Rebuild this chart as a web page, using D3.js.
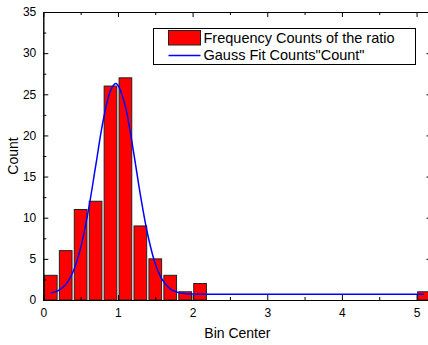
<!DOCTYPE html>
<html>
<head>
<meta charset="utf-8">
<script src="https://cdn.jsdelivr.net/npm/d3@7"></script>
<style>
  body { margin: 0; background: #fff; }
  svg { display: block; font-family: "Liberation Sans", Arial, sans-serif; }
  .axis path, .axis line { stroke: #000; }
</style>
</head>
<body>
<script>
// histogram of the ratio: bin centres and counts
var binCenters = [0.1, 0.3, 0.5, 0.7, 0.9, 1.1, 1.3, 1.5, 1.7, 1.9, 2.1, 5.1];
var binCounts  = [3, 6, 11, 12, 26, 27, 9, 5, 3, 1, 2, 1];

// gauss fit curve, sampled
var fitX = [0.1, 0.2, 0.3, 0.4, 0.5, 0.6, 0.7, 0.8, 0.9, 0.97, 1.0, 1.1, 1.2, 1.3, 1.4, 1.5, 1.6, 1.7, 1.8, 1.9, 2.0, 2.2, 2.6, 3.0, 4.0, 5.1];
var fitY = [0.84, 1.14, 1.88, 3.46, 6.33, 10.7, 16.2, 21.7, 25.45, 26.3, 26.1, 23.5, 18.5, 12.8, 7.9, 4.4, 2.38, 1.36, 0.93, 0.77, 0.72, 0.7, 0.7, 0.7, 0.7, 0.7];

var xTicks = [0, 1, 2, 3, 4, 5];
var yTicks = [0, 5, 10, 15, 20, 25, 30, 35];

var legendLabels = ["Frequency Counts of the ratio", "Gauss Fit Counts\"Count\""];

var margin = {top: 12, right: -3.5, bottom: 45, left: 43.3},
    W = 428, H = 345,
    width = W - margin.left - margin.right,
    height = H - margin.top - margin.bottom;

var x = d3.scaleLinear().domain([0, 5.2]).range([0, width]);
var y = d3.scaleLinear().domain([0, 35]).range([height, 0]);
var barW = 0.17;

var svg = d3.select("body").append("svg")
    .attr("width", W)
    .attr("height", H);

var g = svg.append("g")
    .attr("transform", "translate(" + margin.left + "," + margin.top + ")");

// bars
g.selectAll(".bar")
    .data(binCenters)
    .enter()
    .append("rect")
    .attr("class", "bar")
    .attr("x", function(d) { return x(d - barW / 2); })
    .attr("width", function(d) { return x(barW) - x(0); })
    .attr("y", function(d, i) { return y(binCounts[i]); })
    .attr("height", function(d, i) { return height - y(binCounts[i]); })
    .style("fill", "#ff0000")
    .style("stroke", "#222")
    .style("stroke-width", 1);

// fit line on top of the bars
var line = d3.line()
    .x(function(d) { return x(d); })
    .y(function(d, i) { return y(fitY[i]); })
    .curve(d3.curveCatmullRom);

g.append("path")
    .datum(fitX)
    .attr("d", line)
    .style("fill", "none")
    .style("stroke", "#0000ff")
    .style("stroke-width", 1.5);

// axes: ticks point inward, minor ticks halfway
var minorX = d3.range(0.5, 5.2, 1);
var minorY = d3.range(2.5, 35, 5);
var fmt = d3.format("d");

function styleAxis(sel) {
    sel.attr("class", "axis")
       .selectAll("text")
       .style("font-size", "12px")
       .style("font-family", "'Liberation Sans', Arial, sans-serif")
       .style("fill", "#000");
}

g.append("g")
    .attr("transform", "translate(0," + height + ")")
    .call(d3.axisBottom(x).tickValues(xTicks).tickFormat(fmt).tickSize(-5).tickPadding(8).tickSizeOuter(0))
    .call(styleAxis);
g.append("g")
    .attr("transform", "translate(0," + height + ")")
    .call(d3.axisBottom(x).tickValues(minorX).tickSize(-3).tickFormat("").tickSizeOuter(0))
    .call(styleAxis);

g.append("g")
    .call(d3.axisLeft(y).tickValues(yTicks).tickFormat(fmt).tickSize(-5).tickPadding(7).tickSizeOuter(0))
    .call(styleAxis);
g.append("g")
    .call(d3.axisLeft(y).tickValues(minorY).tickSize(-3).tickFormat("").tickSizeOuter(0))
    .call(styleAxis);

g.append("g")
    .call(d3.axisTop(x).tickValues(xTicks).tickSize(-5).tickFormat("").tickSizeOuter(0))
    .call(styleAxis);
g.append("g")
    .call(d3.axisTop(x).tickValues(minorX).tickSize(-3).tickFormat("").tickSizeOuter(0))
    .call(styleAxis);

g.append("g")
    .attr("transform", "translate(" + width + ",0)")
    .call(d3.axisRight(y).tickValues(yTicks).tickSize(-5).tickFormat("").tickSizeOuter(0))
    .call(styleAxis);
g.append("g")
    .attr("transform", "translate(" + width + ",0)")
    .call(d3.axisRight(y).tickValues(minorY).tickSize(-3).tickFormat("").tickSizeOuter(0))
    .call(styleAxis);

// axis titles
svg.append("text")
    .attr("x", margin.left + width / 2)
    .attr("y", 338)
    .attr("text-anchor", "middle")
    .style("font-size", "14px")
    .text("Bin Center");

svg.append("text")
    .attr("transform", "translate(18," + (margin.top + height / 2) + ") rotate(-90)")
    .attr("text-anchor", "middle")
    .style("font-size", "14px")
    .text("Count");

// legend
var legend = svg.append("g").attr("transform", "translate(153.5,28.5)");

legend.append("rect")
    .attr("width", 262)
    .attr("height", 36)
    .style("fill", "#fff")
    .style("stroke", "#000")
    .style("stroke-width", 1);

legend.append("rect")
    .attr("x", 15)
    .attr("y", 2)
    .attr("width", 32)
    .attr("height", 14.5)
    .style("fill", "#ff0000")
    .style("stroke", "#222");

legend.append("line")
    .attr("x1", 15)
    .attr("x2", 47)
    .attr("y1", 27)
    .attr("y2", 27)
    .style("stroke", "#0000ff")
    .style("stroke-width", 1.5);

legend.selectAll(".lab")
    .data(legendLabels)
    .enter()
    .append("text")
    .attr("class", "lab")
    .attr("x", 50)
    .attr("y", function(d, i) { return 14.5 + i * 17; })
    .style("font-size", "14.5px")
    .text(function(d) { return d; });
</script>
</body>
</html>
